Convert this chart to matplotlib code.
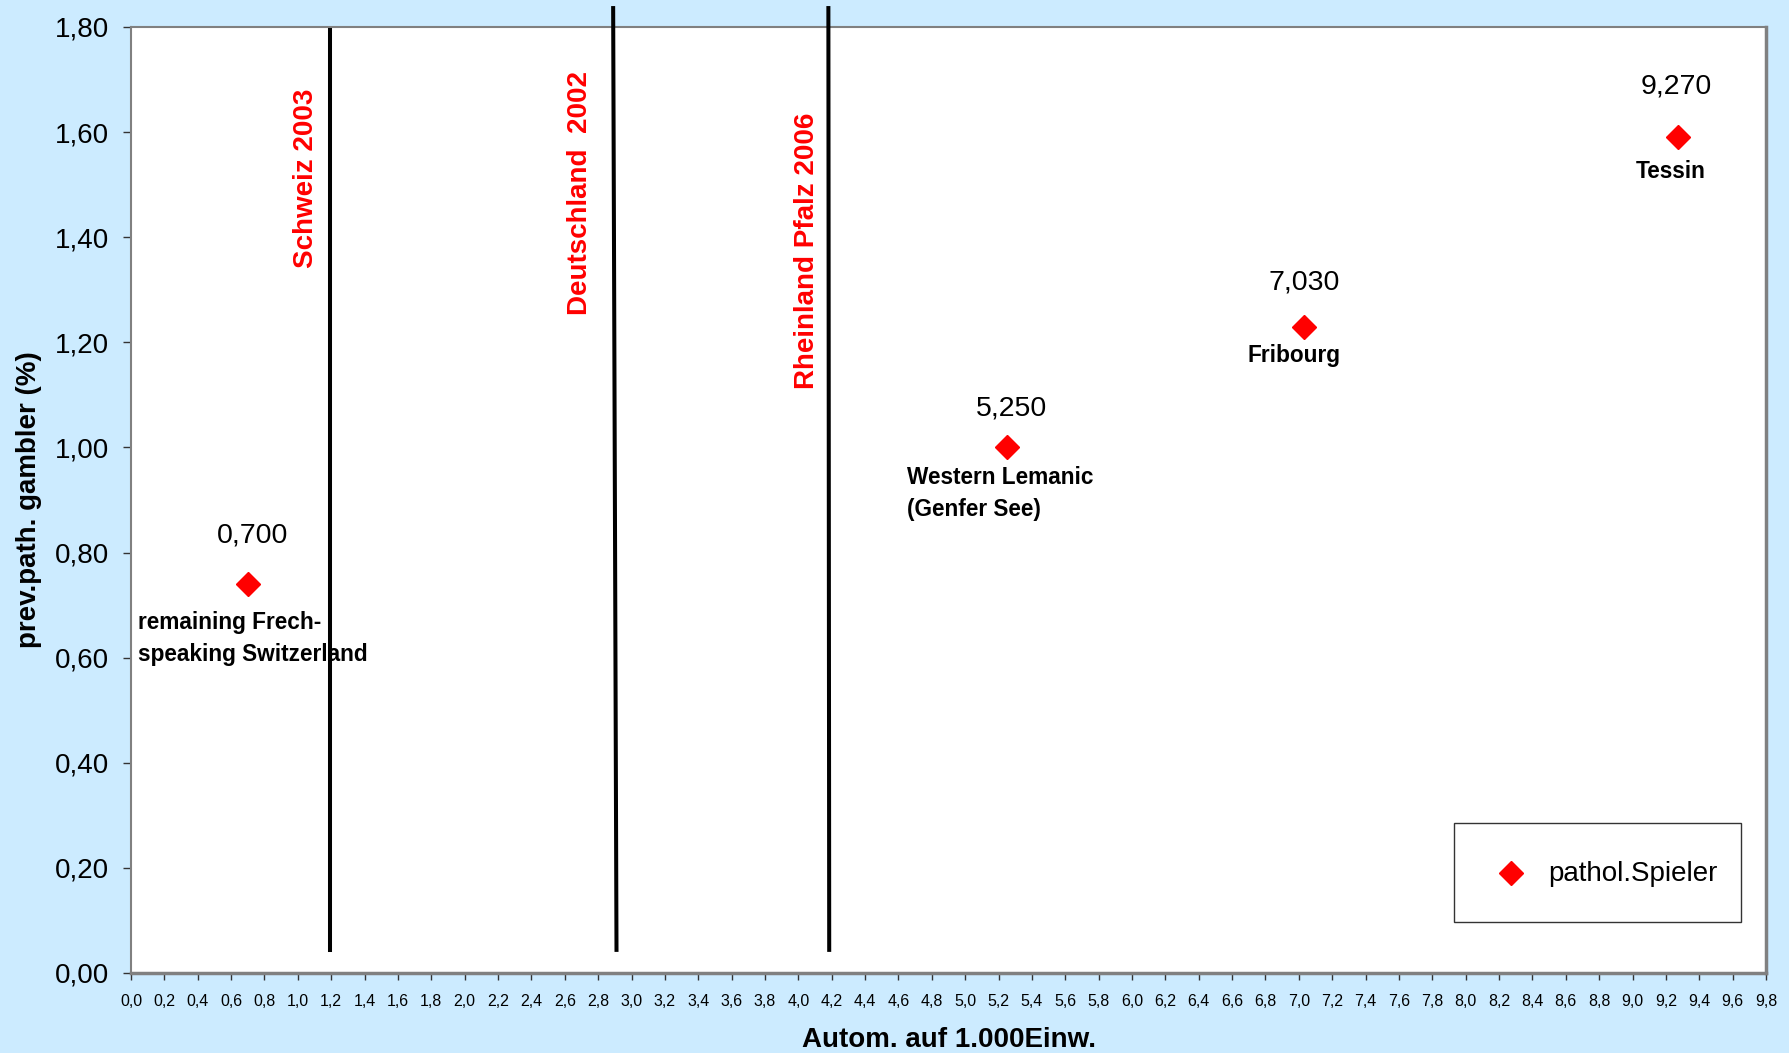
import numpy as np
import matplotlib
matplotlib.use("Agg")
import matplotlib.pyplot as plt
from matplotlib.lines import Line2D
from matplotlib.legend_handler import HandlerLine2D

# ---- data ----
automats = [0.70, 5.25, 7.03, 9.27]
prevalence = [0.74, 1.00, 1.23, 1.59]
value_labels = ["0,700", "5,250", "7,030", "9,270"]
region_names = ["remaining Frech-\nspeaking Switzerland", "Western Lemanic\n(Genfer See)",
                "Fribourg", "Tessin"]
series_name = "pathol.Spieler"

ref_names = ["Schweiz 2003", "Deutschland  2002", "Rheinland Pfalz 2006"]
ref_x_top = [1.19, 2.89, 4.18]
ref_x_bottom = [1.19, 2.91, 4.185]
ref_y_top = [1.795, 1.836, 1.836]
ref_y_bottom = [0.044, 0.044, 0.044]

x_ticks = [round(v, 1) for v in np.arange(0, 9.81, 0.2)]
x_ticklabels = [f"{v:.1f}".replace(".", ",") for v in x_ticks]
y_ticks = [0.0, 0.2, 0.4, 0.6, 0.8, 1.0, 1.2, 1.4, 1.6, 1.8]
y_ticklabels = [f"{v:.2f}".replace(".", ",") for v in y_ticks]

# ---- style ----
bg = "#CCEBFF"
plt.rcParams['font.family'] = ['Liberation Sans', 'DejaVu Sans']


class CenteredMarkerHandler(HandlerLine2D):
    """Keeps the legend marker vertically centred in a tall legend row."""
    def create_artists(self, legend, orig_handle, xdescent, ydescent, width, height,
                       fontsize, trans):
        artists = super().create_artists(legend, orig_handle, xdescent, ydescent,
                                         width, height, fontsize, trans)
        for a in artists:
            a.set_ydata(np.asarray(a.get_ydata()) - ydescent / 2.0)
        return artists


fig = plt.figure(figsize=(17.89, 10.53), dpi=100, facecolor=bg)
ax = fig.add_axes([131/1789, 80/1053, 1635/1789, 946/1053])
ax.set_facecolor("white")
ax.set_xlim(0, 9.8)
ax.set_ylim(0, 1.8)

# reference lines
for xt, xb, yt, yb in zip(ref_x_top, ref_x_bottom, ref_y_top, ref_y_bottom):
    ax.plot([xb, xt], [yb, yt], color="black", lw=2.9, clip_on=False, zorder=3)

# reference labels
ref_label_pos = [(1.05, 1.682), (2.69, 1.716), (4.05, 1.638)]
for name, (tx, ty) in zip(ref_names, ref_label_pos):
    ax.text(tx, ty, name, rotation=90, color="red", fontsize=20, fontweight="bold",
            ha="center", va="top", zorder=4)

# points
ax.plot(automats, prevalence, linestyle="none", marker="D", color="red",
        markersize=12.5, zorder=5, clip_on=False)

# value labels
val_pos = [(0.73, 0.833), (5.275, 1.074), (7.03, 1.313), (9.26, 1.686)]
for lab, (tx, ty) in zip(value_labels, val_pos):
    ax.text(tx, ty, lab, fontsize=20.5, ha="center", va="center", zorder=6)

# region names
name_pos = [(0.04, 0.637, "left"), (4.65, 0.913, "left"), (6.97, 1.174, "center"),
            (9.23, 1.526, "center")]
for lab, (tx, ty, ha) in zip(region_names, name_pos):
    ax.text(tx, ty, lab, fontsize=16.3, fontweight="bold", ha=ha, va="center",
            linespacing=1.5, zorder=6)

# axes styling
for s in ["top", "left"]:
    ax.spines[s].set_color("#808080")
    ax.spines[s].set_linewidth(1.5)
for s in ["right", "bottom"]:
    ax.spines[s].set_color("#808080")
    ax.spines[s].set_linewidth(2.5)

ax.set_xticks(x_ticks)
ax.set_xticklabels(x_ticklabels, fontsize=11.5,
                   family=['Liberation Sans Narrow', 'Liberation Sans', 'DejaVu Sans'])
ax.set_yticks(y_ticks)
ax.set_yticklabels(y_ticklabels, fontsize=20)
ax.tick_params(axis="x", direction="out", length=5, width=1, color="#333333", pad=10)
ax.tick_params(axis="y", direction="out", length=6, width=1, color="#333333", pad=10)

ax.set_xlabel("Autom. auf 1.000Einw.", fontsize=20, fontweight="bold")
ax.xaxis.set_label_coords(0.5, (973 - 1040) / 946)
ax.xaxis.label.set_va("center")
ax.set_ylabel("prev.path. gambler (%)", fontsize=20, fontweight="bold")
ax.yaxis.set_label_coords((28.5 - 131) / 1635, 0.5)
ax.yaxis.label.set_va("center")
ax.yaxis.label.set_ha("center")

# legend
handle = Line2D([], [], linestyle="none", marker="D", color="red", markersize=12.5)
leg = ax.legend([handle], [series_name], loc="lower right",
                bbox_to_anchor=(1741/1789, (1053-922)/1053), bbox_transform=fig.transFigure,
                fontsize=20, frameon=True, fancybox=False, edgecolor="black",
                borderpad=0.85, handletextpad=0.1, borderaxespad=0,
                handlelength=2.45, handleheight=2.49,
                handler_map={Line2D: CenteredMarkerHandler()})
leg.get_frame().set_linewidth(1.0)

fig.savefig("out.png", dpi=100, facecolor=bg)
